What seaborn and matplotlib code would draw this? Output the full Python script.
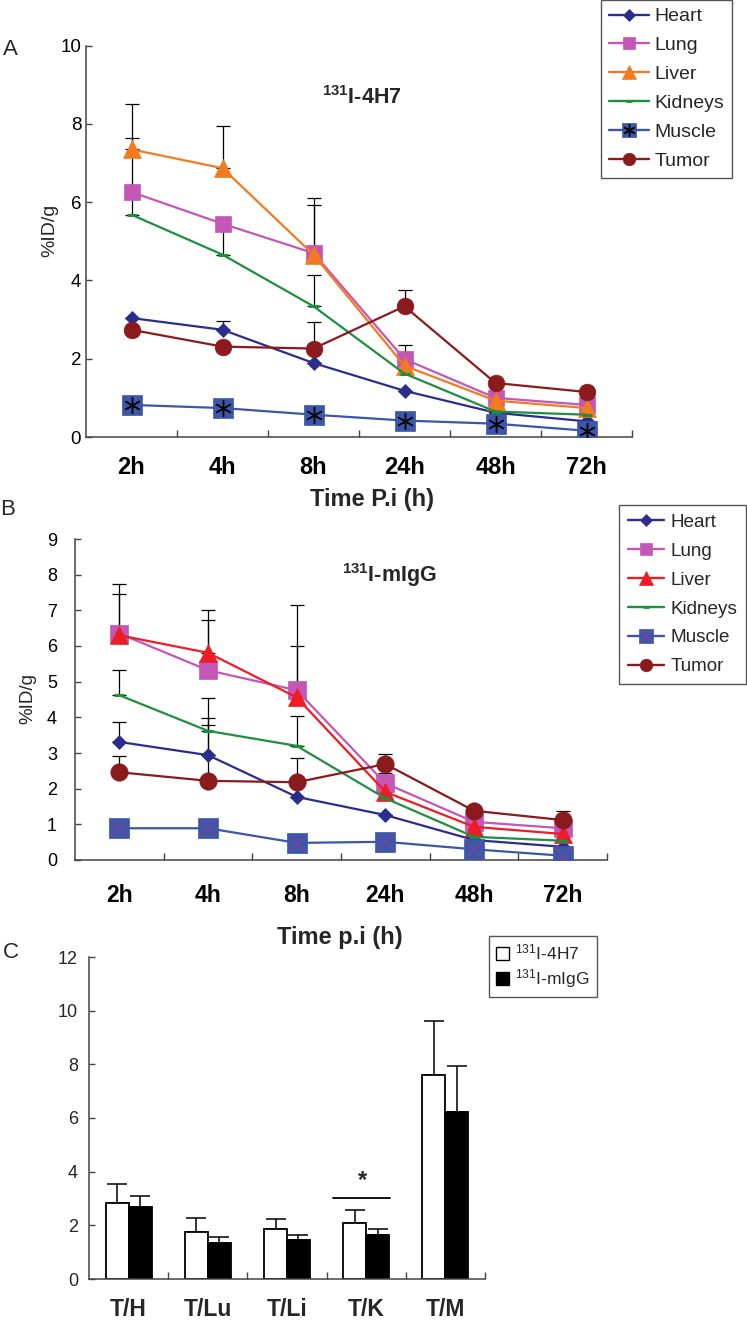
import numpy as np
import pandas as pd
import matplotlib
matplotlib.use("Agg")
import matplotlib.pyplot as plt
import seaborn as sns
from matplotlib.lines import Line2D
from matplotlib.patches import Patch
from matplotlib.legend_handler import HandlerTuple

# ---------------- data ----------------
times = ["2h", "4h", "8h", "24h", "48h", "72h"]
organs = ["Heart", "Lung", "Liver", "Kidneys", "Muscle", "Tumor"]

# Panel A: 131I-4H7 (%ID/g)
a_heart = [3.04, 2.74, 1.89, 1.18, 0.62, 0.40]
a_lung = [6.26, 5.45, 4.70, 1.99, 1.00, 0.82]
a_liver = [7.35, 6.87, 4.66, 1.82, 0.93, 0.74]
a_kidneys = [5.68, 4.66, 3.34, 1.62, 0.65, 0.57]
a_muscle = [0.82, 0.74, 0.57, 0.42, 0.34, 0.16]
a_tumor = [2.74, 2.31, 2.26, 3.34, 1.38, 1.15]
a_heart_err = [0.0, 0.23, 0.0, 0.0, 0.0, 0.0]
a_lung_err = [1.37, 0.0, 1.23, 0.35, 0.0, 0.0]
a_liver_err = [1.15, 1.08, 1.46, 0.0, 0.0, 0.0]
a_kidneys_err = [0.6, 0.8, 0.8, 0.0, 0.0, 0.0]
a_muscle_err = [0.0, 0.0, 0.0, 0.0, 0.0, 0.0]
a_tumor_err = [0.0, 0.0, 0.68, 0.42, 0.0, 0.0]

# Panel B: 131I-mIgG (%ID/g)
b_heart = [3.31, 2.94, 1.77, 1.26, 0.56, 0.37]
b_lung = [6.35, 5.32, 4.76, 2.15, 1.07, 0.89]
b_liver = [6.30, 5.81, 4.56, 1.91, 0.93, 0.73]
b_kidneys = [4.62, 3.62, 3.20, 1.73, 0.65, 0.54]
b_muscle = [0.89, 0.89, 0.48, 0.51, 0.30, 0.12]
b_tumor = [2.46, 2.22, 2.18, 2.69, 1.38, 1.12]
b_heart_err = [0.56, 0.84, 0.0, 0.0, 0.0, 0.0]
b_lung_err = [1.38, 1.42, 2.40, 0.28, 0.0, 0.0]
b_liver_err = [1.17, 1.19, 1.44, 0.0, 0.0, 0.0]
b_kidneys_err = [0.70, 0.93, 0.84, 0.0, 0.0, 0.0]
b_muscle_err = [0.0, 0.0, 0.0, 0.0, 0.0, 0.0]
b_tumor_err = [0.46, 1.75, 0.67, 0.28, 0.0, 0.26]

# Panel C: tumor-to-organ ratios
ratios = ["T/H", "T/Lu", "T/Li", "T/K", "T/M"]
agents = ["$^{131}$I-4H7", "$^{131}$I-mIgG"]
c_4h7 = [2.85, 1.77, 1.85, 2.09, 7.60]
c_4h7_err = [0.69, 0.51, 0.39, 0.48, 2.03]
c_migg = [2.70, 1.35, 1.44, 1.64, 6.24]
c_migg_err = [0.41, 0.23, 0.21, 0.21, 1.68]

# ---------------- style ----------------
sns.set_theme(style="white")
plt.rcParams["font.family"] = ["Liberation Sans", "DejaVu Sans"]
plt.rcParams["mathtext.fontset"] = "custom"
plt.rcParams["mathtext.rm"] = "Liberation Sans"
plt.rcParams["mathtext.bf"] = "Liberation Sans:bold"
plt.rcParams["mathtext.it"] = "Liberation Sans:italic"

NAVY = "#2B2D8C"
LUNG = "#C456B6"
ORANGE = "#F47A20"
RED = "#EE1C25"
GREEN = "#1E8F3E"
BLUE = "#3C56A8"
DRED = "#8A1A1C"
SPINE = "#444444"

styles_a = {
    "Heart": dict(color=NAVY, marker="D", ms=7.5),
    "Lung": dict(color=LUNG, marker="s", ms=12),
    "Liver": dict(color=ORANGE, marker="^", ms=13.5),
    "Kidneys": dict(color=GREEN, marker="_", ms=7),
    "Muscle": dict(color=BLUE, marker="s", ms=15),
    "Tumor": dict(color=DRED, marker="o", ms=12),
}
styles_b = {
    "Heart": dict(color=NAVY, marker="D", ms=7.5),
    "Lung": dict(color=LUNG, marker="s", ms=12.5),
    "Liver": dict(color=RED, marker="^", ms=13.5),
    "Kidneys": dict(color=GREEN, marker="_", ms=7),
    "Muscle": dict(color=BLUE, marker="s", ms=15),
    "Tumor": dict(color=DRED, marker="o", ms=12.5),
}

fig = plt.figure(figsize=(7.47, 13.2), dpi=100)
W, H = 747.0, 1320.0


def frac_rect(x0, x1, ytop, ybot):
    return [x0 / W, 1 - ybot / H, (x1 - x0) / W, (ybot - ytop) / H]


def line_panel(ax, series, errs, styles, ymax, overlay, tick_fs, tick_pad, xlab_pad, xlab_fs):
    pos = np.arange(len(times))
    for name in organs:
        e = np.array(errs[name])
        ax.errorbar(pos, series[name], yerr=[np.zeros_like(e), e], fmt="none",
                    ecolor="black", elinewidth=0.9, capsize=5, capthick=0.9, zorder=1)
    for i, name in enumerate(organs):
        st = styles[name]
        df = pd.DataFrame({"t": pos, "v": series[name]})
        mew = 2.2 if name == "Kidneys" else 0.5
        sns.lineplot(data=df, x="t", y="v", ax=ax, color=st["color"], marker=st["marker"],
                     markersize=st["ms"], markeredgecolor=st["color"], markerfacecolor=st["color"],
                     markeredgewidth=mew, linewidth=1.6, zorder=2 + i)
        if name == "Muscle":
            sns.lineplot(data=df, x="t", y="v", ax=ax, color=overlay["color"], marker=overlay["marker"],
                         markersize=overlay["ms"], markeredgecolor=overlay["color"],
                         markeredgewidth=overlay["mew"], linestyle="", zorder=2 + i)
    ax.set_xlim(-0.5, len(times) - 0.5)
    ax.set_ylim(0, ymax)
    ax.set_xticks(pos)
    ax.set_xticklabels(times, fontsize=xlab_fs, fontweight="bold")
    ax.set_xticks(np.arange(0.5, len(times), 1.0), minor=True)
    ax.tick_params(axis="x", which="major", length=0, pad=xlab_pad, colors="black")
    ax.tick_params(axis="x", which="minor", direction="in", length=5, width=1, color=SPINE, bottom=True)
    ax.tick_params(axis="y", direction="in", length=4, width=1, color=SPINE, labelsize=tick_fs,
                   pad=tick_pad, left=True, labelcolor="black")
    ax.set_xlabel("")
    ax.set_ylabel("")
    sns.despine(ax=ax)
    for s in ["left", "bottom"]:
        ax.spines[s].set_color(SPINE)
        ax.spines[s].set_linewidth(1.1)


def legend_handles(styles, overlay):
    hs = []
    for name in organs:
        st = styles[name]
        size = {"D": 6.5, "s": 9, "^": 9.5, "_": 5, "o": 9}[st["marker"]]
        if name == "Muscle":
            size = 10.5
        h = Line2D([], [], color=st["color"], marker=st["marker"], markersize=size,
                   markerfacecolor=st["color"], markeredgecolor=st["color"],
                   markeredgewidth=2 if name == "Kidneys" else 0.5, linewidth=1.7)
        if name == "Muscle":
            h2 = Line2D([], [], color=overlay["color"], marker=overlay["marker"], markersize=size * 0.85,
                        markeredgecolor=overlay["color"], markeredgewidth=overlay["mew"], linestyle="")
            h = (h, h2)
        hs.append(h)
    return hs


# ---------------- Panel A ----------------
axA = fig.add_axes(frac_rect(86, 632, 45.7, 437))
series_a = dict(zip(organs, [a_heart, a_lung, a_liver, a_kidneys, a_muscle, a_tumor]))
errs_a = dict(zip(organs, [a_heart_err, a_lung_err, a_liver_err, a_kidneys_err, a_muscle_err, a_tumor_err]))
ov_a = dict(color="black", marker=(6, 2, 0), ms=12, mew=1.0)
line_panel(axA, series_a, errs_a, styles_a, 10, ov_a, 13.5, 3.5, 14, 17)
axA.set_yticks(np.arange(0, 11, 2))
legA = fig.legend(legend_handles(styles_a, ov_a), organs, loc="upper left",
                  bbox_to_anchor=(601 / W, 1.0), bbox_transform=fig.transFigure,
                  fontsize=14, frameon=True, fancybox=False, framealpha=1, edgecolor="#555555",
                  borderpad=0.4, labelspacing=0.58, handlelength=2.05, handletextpad=0.3,
                  borderaxespad=0, handler_map={tuple: HandlerTuple(ndivide=1)})
legA.get_frame().set_linewidth(1.0)
fig.text(322 / W, 1 - 104 / H, r"$\mathbf{^{131}}$I-4H7", fontsize=15.5, fontweight="bold",
         ha="left", va="baseline")
fig.text(50 / W, 1 - 230 / H, "%ID/g", rotation=90, ha="center", va="center", fontsize=14)
fig.text(372 / W, 1 - 506 / H, "Time P.i (h)", ha="center", va="baseline", fontsize=17, fontweight="bold")
fig.text(3 / W, 1 - 55 / H, "A", fontsize=16, ha="left", va="baseline")

# ---------------- Panel B ----------------
axB = fig.add_axes(frac_rect(75, 607, 539, 860))
series_b = dict(zip(organs, [b_heart, b_lung, b_liver, b_kidneys, b_muscle, b_tumor]))
errs_b = dict(zip(organs, [b_heart_err, b_lung_err, b_liver_err, b_kidneys_err, b_muscle_err, b_tumor_err]))
ov_b = dict(color="#8A3E9E", marker="x", ms=11, mew=0.8)
line_panel(axB, series_b, errs_b, styles_b, 9, ov_b, 13, 13, 17, 16.5)
axB.set_yticks(np.arange(0, 10, 1))
legB = fig.legend(legend_handles(styles_b, ov_b), organs, loc="upper left",
                  bbox_to_anchor=(619 / W, 1 - 505 / H), bbox_transform=fig.transFigure,
                  fontsize=13.6, frameon=True, fancybox=False, framealpha=1, edgecolor="#555555",
                  borderpad=0.45, labelspacing=0.62, handlelength=1.95, handletextpad=0.35,
                  borderaxespad=0, handler_map={tuple: HandlerTuple(ndivide=1)})
legB.get_frame().set_linewidth(1.0)
fig.text(342 / W, 1 - 581.7 / H, r"$\mathbf{^{131}}$I-mIgG", fontsize=15.5, fontweight="bold",
         ha="left", va="baseline")
fig.text(27.5 / W, 1 - 698 / H, "%ID/g", rotation=90, ha="center", va="center", fontsize=13.5)
fig.text(340 / W, 1 - 944 / H, "Time p.i (h)", ha="center", va="baseline", fontsize=17, fontweight="bold")
fig.text(0 / W, 1 - 515 / H, "B", fontsize=16, ha="left", va="baseline")

# ---------------- Panel C ----------------
axC = fig.add_axes(frac_rect(89, 485, 957, 1279))
dfc = pd.DataFrame({
    "ratio": ratios * 2,
    "value": c_4h7 + c_migg,
    "agent": [agents[0]] * len(ratios) + [agents[1]] * len(ratios),
})
sns.barplot(data=dfc, x="ratio", y="value", hue="agent", ax=axC,
            palette={agents[0]: "white", agents[1]: "black"}, saturation=1,
            edgecolor="black", linewidth=1.3, width=0.58, errorbar=None, legend=False)
for cont, err in zip(axC.containers, [c_4h7_err, c_migg_err]):
    cx = [b.get_x() + b.get_width() / 2 for b in cont]
    cy = [b.get_height() for b in cont]
    e = np.array(err)
    axC.errorbar(cx, cy, yerr=[np.zeros_like(e), e], fmt="none", ecolor="black",
                 elinewidth=1.1, capsize=7, capthick=1.1, zorder=0)
axC.set_xlim(-0.5, len(ratios) - 0.5)
axC.set_ylim(0, 12)
axC.set_yticks(np.arange(0, 13, 2))
axC.set_xticks(np.arange(len(ratios)))
axC.set_xticklabels(ratios, fontsize=16.5, fontweight="bold")
axC.set_xticks(np.arange(0.5, len(ratios), 1.0), minor=True)
axC.tick_params(axis="x", which="major", length=0, pad=14)
axC.tick_params(axis="x", which="minor", direction="in", length=5, width=1, color=SPINE, bottom=True)
axC.tick_params(axis="y", direction="in", length=4, width=1, color=SPINE, labelsize=13, pad=8, left=True)
axC.set_xlabel("")
axC.set_ylabel("")
sns.despine(ax=axC)
for s in ["left", "bottom"]:
    axC.spines[s].set_color(SPINE)
    axC.spines[s].set_linewidth(1.1)
# significance marker for T/K
axC.plot([2.58, 3.30], [3.03, 3.03], color="black", lw=1.3)
axC.text(2.95, 3.43, "*", ha="center", va="baseline", fontsize=17, fontweight="bold")

legC = fig.legend([Patch(facecolor="white", edgecolor="black", linewidth=1.0),
                   Patch(facecolor="black", edgecolor="black", linewidth=1.0)], agents,
                  loc="upper left", bbox_to_anchor=(489 / W, 1 - 936 / H), bbox_transform=fig.transFigure,
                  fontsize=12.5, frameon=True, fancybox=False, framealpha=1, edgecolor="#555555",
                  borderpad=0.4, labelspacing=0.25, handlelength=0.75, handleheight=0.75,
                  handletextpad=0.35, borderaxespad=0)
legC.get_frame().set_linewidth(1.0)
fig.text(3 / W, 1 - 958 / H, "C", fontsize=16, ha="left", va="baseline")

fig.savefig("out.png", dpi=100)
